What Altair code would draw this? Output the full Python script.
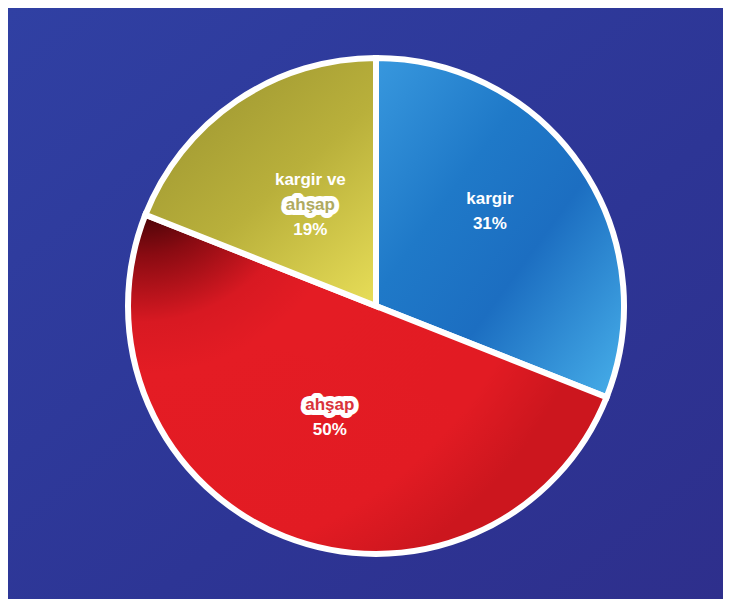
import math
import altair as alt
import pandas as pd

# ---- data -------------------------------------------------------------
categories = ["kargir", "ahşap", "kargir ve ahşap"]
shares = [31, 50, 19]
slice_order = [0, 1, 2]
pct_labels = ["31%", "50%", "19%"]
# label lines per slice (the highlighted word is drawn on a white box)
label_lines = [["kargir"], ["ahşap"], ["kargir ve", "ahşap"]]
highlighted = ["ahşap"]

df = pd.DataFrame({"cat": categories, "share": shares, "ord": slice_order, "pct": pct_labels})

W, H = 694, 586
PAD = {"left": 21, "top": 5, "right": 0, "bottom": 0}
FONT = "Liberation Sans"

theta_scale = alt.Scale(domain=[0, 100], range=[0, 2 * math.pi])

base = (
    alt.Chart(df)
    .transform_window(v1="sum(share)", sort=[alt.SortField("ord", order="ascending")], frame=[None, 0])
    .transform_calculate(v0="datum.v1 - datum.share", mid="datum.v1 - datum.share / 2")
)

def stops(pairs):
    return [alt.GradientStop(offset=o, color=c) for o, c in pairs]

grad_blue = alt.LinearGradient(
    gradient="linear", x1=0, y1=0, x2=1, y2=1,
    stops=stops([(0, "#3898DE"), (0.35, "#1F79C8"), (0.6, "#1C6EC1"), (1, "#48B0EA")]),
)
grad_red = alt.RadialGradient(
    gradient="radial", x1=0.03, y1=0.03, r1=0, x2=0.03, y2=0.03, r2=1.0,
    stops=stops([(0, "#0E0000"), (0.09, "#380205"), (0.2, "#8A0B12"), (0.34, "#D81922"),
                 (0.45, "#E41C24"), (0.85, "#E21B23"), (1, "#CC161E")]),
)
grad_olive = alt.LinearGradient(
    gradient="linear", x1=0.2, y1=0, x2=1, y2=1,
    stops=stops([(0, "#9C9531"), (0.5, "#B9B03B"), (1, "#E8DE58")]),
)
slice_fill = {"kargir": grad_blue, "ahşap": grad_red, "kargir ve ahşap": grad_olive}
hl_text_color = {"kargir": "#1F7AC9", "ahşap": "#D9333A", "kargir ve ahşap": "#B0AA60"}

bg = alt.Chart(alt.Data(values=[{"a": 1}])).mark_rect(
    fill=alt.LinearGradient(
        gradient="linear", x1=0, y1=0, x2=1, y2=1,
        stops=stops([(0, "#3040A3"), (0.6, "#2D3595"), (1, "#2E2F8C")]),
    )
).encode(x=alt.value(-21), x2=alt.value(W), y=alt.value(-5), y2=alt.value(H))

layers = [bg]
for cat in categories:
    layers.append(
        base.transform_filter(alt.datum.cat == cat)
        .mark_arc(radius=248, fill=slice_fill[cat], stroke="white", strokeWidth=6)
        .encode(theta=alt.Theta("v0:Q", scale=theta_scale), theta2=alt.Theta2("v1"))
    )

# label placement (radius from centre, dx, and dy of first line); line gap 25px
placement = {
    "kargir": (145, -6, -25),
    "ahşap": (120, -2, -13),
    "kargir ve ahşap": (115, -1, -31),
}
LINE = 25

def text_layer(cat, r, dx, dy, text_enc, fill, stroke=None):
    props = dict(radius=r, dx=dx, dy=dy, font=FONT, fontWeight="bold", fontSize=17,
                 fill=fill, align="center", baseline="middle")
    if stroke:
        props.update(stroke=stroke, strokeWidth=10, strokeJoin="round")
    return (
        base.transform_filter(alt.datum.cat == cat)
        .mark_text(**props)
        .encode(theta=alt.Theta("mid:Q", scale=theta_scale), text=text_enc)
    )

for i, cat in enumerate(categories):
    r, dx, dy = placement[cat]
    lines = label_lines[i]
    for j, line in enumerate(lines):
        ly = dy + j * LINE
        if line in highlighted:
            layers.append(text_layer(cat, r, dx, ly, alt.value(line), "white", stroke="white"))
            layers.append(text_layer(cat, r, dx, ly, alt.value(line), hl_text_color[cat]))
        else:
            layers.append(text_layer(cat, r, dx, ly, alt.value(line), "white"))
    layers.append(text_layer(cat, r, dx, dy + len(lines) * LINE, alt.Text("pct:N"), "white"))

chart = (
    alt.layer(*layers)
    .properties(width=W, height=H, padding=PAD, autosize=alt.AutoSizeParams(type="none"),
                background="#2E3597")
    .configure_view(strokeWidth=0)
)

chart.save("out.html", embed_options={"renderer": "svg", "actions": False})
